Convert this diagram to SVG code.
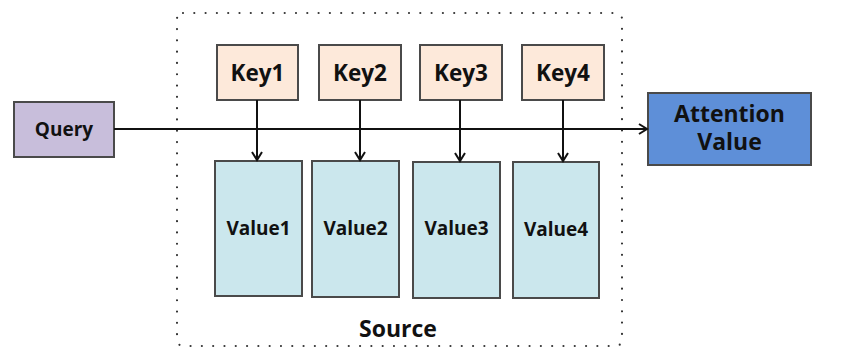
<svg xmlns="http://www.w3.org/2000/svg" width="841" height="359" viewBox="0 0 841 359">
<defs>
<style>
.box{stroke:#4a4a4a;stroke-width:2}
.q{fill:#c8bedb}
.k{fill:#fde9da}
.v{fill:#cbe7ed}
.a{fill:#5e8fd8}
text{font-family:"Open Sans","Noto Sans","Liberation Sans",sans-serif;font-weight:bold;fill:#111;text-anchor:middle}
.conn{stroke:#111;stroke-width:2;fill:none}
</style>
<marker id="arr" markerWidth="12" markerHeight="12" refX="10" refY="6" orient="auto" markerUnits="userSpaceOnUse">
<path d="M2,1 L10,6 L2,11" fill="none" stroke="#111" stroke-width="2"/>
</marker>
</defs>
<rect width="841" height="359" fill="#fff"/>
<g id="source">
<rect x="177" y="13" width="445" height="333" rx="6" fill="none" stroke="#333" stroke-width="2.2" stroke-dasharray="0 11.3" stroke-linecap="round"/>
<text x="398" y="337" font-size="23">Source</text>
</g>
<g id="query"><rect class="box q" x="14" y="102" width="100" height="55"/><text x="64" y="136" font-size="19">Query</text></g>
<g id="key1"><rect class="box k" x="217" y="45" width="81" height="55"/><text x="257.5" y="81" font-size="22.5">Key1</text></g>
<g id="key2"><rect class="box k" x="319" y="45" width="82" height="55"/><text x="360" y="81" font-size="22.5">Key2</text></g>
<g id="key3"><rect class="box k" x="420" y="45" width="82" height="55"/><text x="461" y="81" font-size="22.5">Key3</text></g>
<g id="key4"><rect class="box k" x="522" y="45" width="82" height="55"/><text x="563" y="81" font-size="22.5">Key4</text></g>
<g id="value1"><rect class="box v" x="215" y="161" width="87" height="135"/><text x="258.5" y="235" font-size="19">Value1</text></g>
<g id="value2"><rect class="box v" x="312" y="161" width="87" height="136"/><text x="355.5" y="235" font-size="19">Value2</text></g>
<g id="value3"><rect class="box v" x="413" y="162" width="87" height="136"/><text x="456.5" y="235" font-size="19">Value3</text></g>
<g id="value4"><rect class="box v" x="513" y="162" width="86" height="136"/><text x="556" y="236" font-size="19">Value4</text></g>
<g id="attention"><rect class="box a" x="648" y="93" width="163" height="72"/><text font-size="23"><tspan x="729.5" y="122">Attention</tspan><tspan x="729.5" y="150">Value</tspan></text></g>
<g id="connectors">
<line class="conn" x1="114" y1="129" x2="647" y2="129" marker-end="url(#arr)"/>
<line class="conn" x1="257" y1="100" x2="257" y2="160" marker-end="url(#arr)"/>
<line class="conn" x1="360" y1="100" x2="360" y2="160" marker-end="url(#arr)"/>
<line class="conn" x1="460" y1="100" x2="460" y2="161" marker-end="url(#arr)"/>
<line class="conn" x1="563" y1="100" x2="563" y2="161" marker-end="url(#arr)"/>
</g>
</svg>
